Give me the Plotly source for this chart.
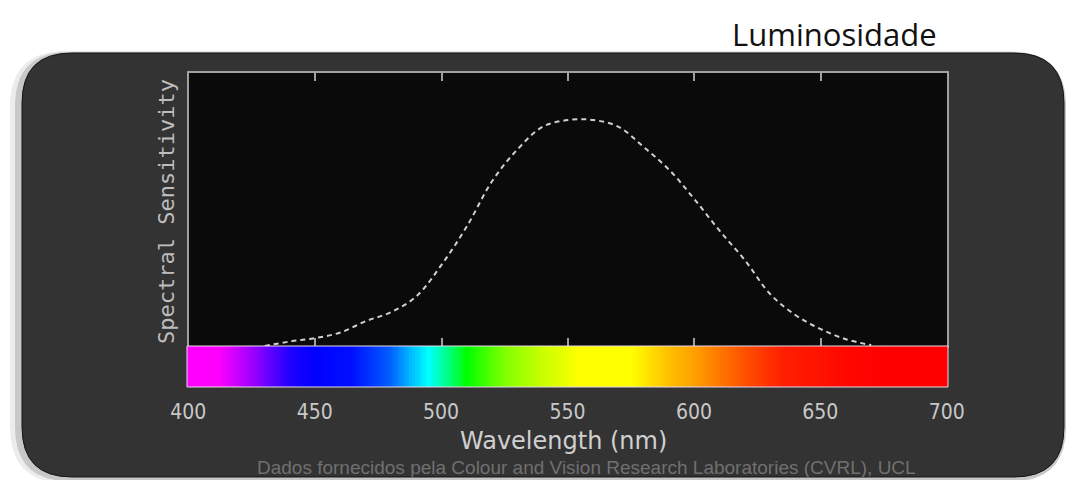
import plotly.graph_objects as go

# ---- data ----
wavelengths = [430, 440, 450, 460, 470, 480, 490, 500, 510, 520, 530, 540, 550,
               560, 570, 580, 590, 600, 610, 620, 630, 640, 650, 660, 670]
luminosity = [0.0, 0.02, 0.035, 0.06, 0.11, 0.15, 0.22, 0.36, 0.53, 0.73, 0.87, 0.97, 1.0,
              1.0, 0.97, 0.88, 0.78, 0.65, 0.51, 0.38, 0.23, 0.137, 0.075, 0.03, 0.004]
tick_values = [400, 450, 500, 550, 600, 650, 700]
top_ticks = [450, 500, 550, 600, 650]
spectrum_x = list(range(400, 701))
spectrum_stops = [
    (400, "#ff00ff"), (412, "#ff00ff"), (425, "#a000ff"), (440, "#2000ff"),
    (450, "#0000ff"), (465, "#0010ff"), (480, "#0060ff"), (490, "#00d0ff"),
    (495, "#00ffff"), (502, "#00ff90"), (510, "#00ff00"), (525, "#80ff00"),
    (540, "#c8ff00"), (555, "#ffff00"), (575, "#ffff00"), (590, "#ffc000"),
    (600, "#ffa000"), (620, "#ff5000"), (635, "#ff2000"), (660, "#ff0800"),
    (675, "#ff0000"), (700, "#ff0000"),
]

W, H = 1068, 480


def px(x):
    return x / W


def py(y):
    return 1 - y / H


def rounded_rect(x0, y0, x1, y1, r):
    rx, ry = r / W, r / H
    a, b, c, d = px(x0), py(y0), px(x1), py(y1)
    return (f"M {a+rx},{b} L {c-rx},{b} Q {c},{b} {c},{b-ry} "
            f"L {c},{d+ry} Q {c},{d} {c-rx},{d} L {a+rx},{d} "
            f"Q {a},{d} {a},{d+ry} L {a},{b-ry} Q {a},{b} {a+rx},{b} Z")


colorscale = [[(w - 400) / 300, c] for w, c in spectrum_stops]

fig = go.Figure()

fig.add_trace(go.Heatmap(
    x=spectrum_x, y=[0], z=[spectrum_x], colorscale=colorscale,
    zmin=400, zmax=700, showscale=False, hoverinfo="skip",
    xaxis="x2", yaxis="y2",
))

fig.add_trace(go.Scatter(
    x=wavelengths, y=luminosity, mode="lines",
    line=dict(color="#d0d0d0", width=2, dash="5px,4px", shape="spline"),
    hoverinfo="skip", showlegend=False,
))

shapes = [
    dict(type="path", xref="paper", yref="paper", layer="below",
         path=rounded_rect(10, 51, 1064, 483, 56), fillcolor="#ececec", line=dict(width=0)),
    dict(type="path", xref="paper", yref="paper", layer="below",
         path=rounded_rect(15, 52, 1066, 481, 54), fillcolor="#c8c8c8", line=dict(width=0)),
    dict(type="path", xref="paper", yref="paper", layer="below",
         path=rounded_rect(22, 53, 1064, 477, 50), fillcolor="#333333",
         line=dict(color="#151515", width=1)),
    dict(type="rect", xref="x domain", yref="y domain", x0=0, x1=1, y0=0, y1=1,
         fillcolor="#0a0a0a", line=dict(width=0), layer="below"),
    dict(type="rect", xref="x2 domain", yref="y2 domain", x0=0, x1=1, y0=0, y1=1,
         line=dict(color="#e8d8e8", width=1), layer="above"),
]

annotations = [
    dict(text="Luminosidade", x=px(834), y=py(34), xref="paper", yref="paper",
         showarrow=False, font=dict(family="Open Sans", size=31, color="#111111"),
         xanchor="center", yanchor="middle"),
    dict(text="Spectral Sensitivity", x=px(166), y=py(212), xref="paper", yref="paper",
         showarrow=False, textangle=-90,
         font=dict(family="DejaVu Sans Mono", size=22, color="#bdbdbd"),
         xanchor="center", yanchor="middle"),
    dict(text="Wavelength (nm)", x=px(563), y=py(441), xref="paper", yref="paper",
         showarrow=False, font=dict(family="DejaVu Sans", size=24, color="#d0d0d0"),
         xanchor="center", yanchor="middle"),
    dict(text="Dados fornecidos pela Colour and Vision Research Laboratories (CVRL), UCL",
         x=px(586), y=py(467), xref="paper", yref="paper", showarrow=False,
         font=dict(family="Liberation Sans", size=19, color="#707070"),
         xanchor="center", yanchor="middle"),
]

fig.update_layout(
    width=W, height=H, margin=dict(l=0, r=0, t=0, b=0, autoexpand=False),
    paper_bgcolor="white", plot_bgcolor="rgba(0,0,0,0)", showlegend=False,
    shapes=shapes, annotations=annotations,
    xaxis=dict(domain=[px(189), px(947)], range=[400, 700], anchor="y",
               showline=True, linecolor="#a0a0a0", linewidth=2, mirror="ticks",
               ticks="inside", ticklen=8, tickwidth=2, tickcolor="#a0a0a0",
               tickvals=top_ticks, showticklabels=False, showgrid=False, zeroline=False),
    yaxis=dict(domain=[py(346), py(73)], range=[0, 1.208], anchor="x",
               showline=True, linecolor="#a0a0a0", linewidth=2, mirror=True,
               ticks="", showticklabels=False, showgrid=False, zeroline=False),
    xaxis2=dict(domain=[px(187), px(948)], range=[399.5, 700.5], anchor="y2",
                showline=False, ticks="", tickvals=tick_values,
                ticklabelstandoff=10,
                tickfont=dict(family="DejaVu Sans Condensed, Roboto, sans-serif",
                              size=21, color="#c8c8c8"),
                showgrid=False, zeroline=False),
    yaxis2=dict(domain=[py(387), py(346)], range=[-0.5, 0.5], anchor="x2",
                showline=False, ticks="", showticklabels=False,
                showgrid=False, zeroline=False),
)

fig.write_html("out.html", config={"displayModeBar": False},
               post_script="document.body.style.margin='0';")
